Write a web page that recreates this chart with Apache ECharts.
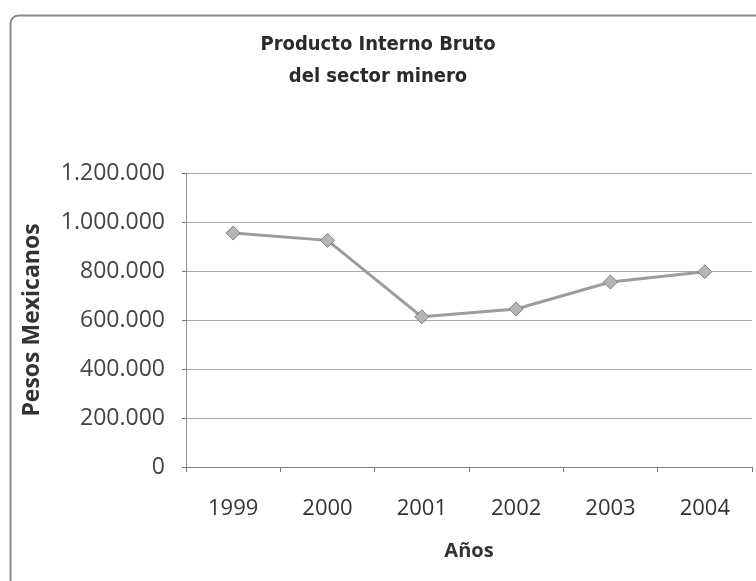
<!DOCTYPE html>
<html>
<head>
<meta charset="utf-8">
<script src="https://cdn.jsdelivr.net/npm/echarts@6/dist/echarts.min.js"></script>
<style>
  html, body { margin: 0; padding: 0; background: #fff; }
  #chart { width: 756px; height: 581px; }
</style>
</head>
<body>
<div id="chart"></div>
<script>
const years = ['1999', '2000', '2001', '2002', '2003', '2004']
const pib = [955000, 925000, 613000, 645000, 755000, 797000]
const yTicks = [0, 200000, 400000, 600000, 800000, 1000000, 1200000]

function formatMiles(v) {
  return String(v).replace(/\B(?=(\d{3})+(?!\d))/g, '.')
}

const chart = echarts.init(document.getElementById('chart'))

chart.setOption({
  backgroundColor: '#fff',
  animation: false,
  graphic: [{
    type: 'rect',
    left: 8, top: 13,
    shape: { width: 760, height: 590, r: 8 },
    style: { fill: 'none', stroke: '#8a8a8a', lineWidth: 2 },
    silent: true,
  }],
  title: {
    text: 'Producto Interno Bruto\ndel sector minero',
    left: 'center',
    top: 24,
    textStyle: {
      fontFamily: 'Liberation Sans Narrow, DejaVu Sans Condensed, sans-serif',
      fontSize: 20,
      fontWeight: 'bold',
      color: '#2a2a2a',
      lineHeight: 32,
    },
  },
  grid: { left: 186, right: 4, top: 173, bottom: 114 },
  xAxis: {
    type: 'category',
    data: years,
    boundaryGap: true,
    name: 'Años',
    nameLocation: 'middle',
    nameGap: 74,
    nameTextStyle: { fontFamily: 'Open Sans', fontSize: 20, fontWeight: 'bold', color: '#333' },
    axisLine: { lineStyle: { color: '#777', type: 'dotted', width: 1 } },
    axisTick: { show: true, length: 5, lineStyle: { color: '#777' } },
    axisLabel: { margin: 31, fontFamily: 'Open Sans', fontSize: 22, color: '#333' },
  },
  yAxis: {
    type: 'value',
    min: 0,
    max: 1200000,
    interval: 200000,
    name: 'Pesos Mexicanos',
    nameLocation: 'middle',
    nameGap: 142,
    nameRotate: 90,
    nameTextStyle: { fontFamily: 'Open Sans', fontSize: 23, fontWeight: 'bold', color: '#333' },
    axisLine: { show: true, lineStyle: { color: '#777', type: 'dotted', width: 1 } },
    axisTick: { show: true, length: 4, lineStyle: { color: '#777' } },
    axisLabel: {
      margin: 21,
      fontFamily: 'Open Sans',
      fontSize: 23,
      color: '#444',
      formatter: v => yTicks.includes(v) ? formatMiles(v) : '',
    },
    splitLine: { lineStyle: { color: '#a8a8a8', width: 1 } },
  },
  series: [{
    type: 'line',
    data: pib,
    symbol: 'diamond',
    symbolSize: 14,
    lineStyle: { color: '#9c9c9c', width: 3 },
    itemStyle: { color: '#b5b5b5', borderColor: '#808080', borderWidth: 1 },
  }],
})
</script>
</body>
</html>
